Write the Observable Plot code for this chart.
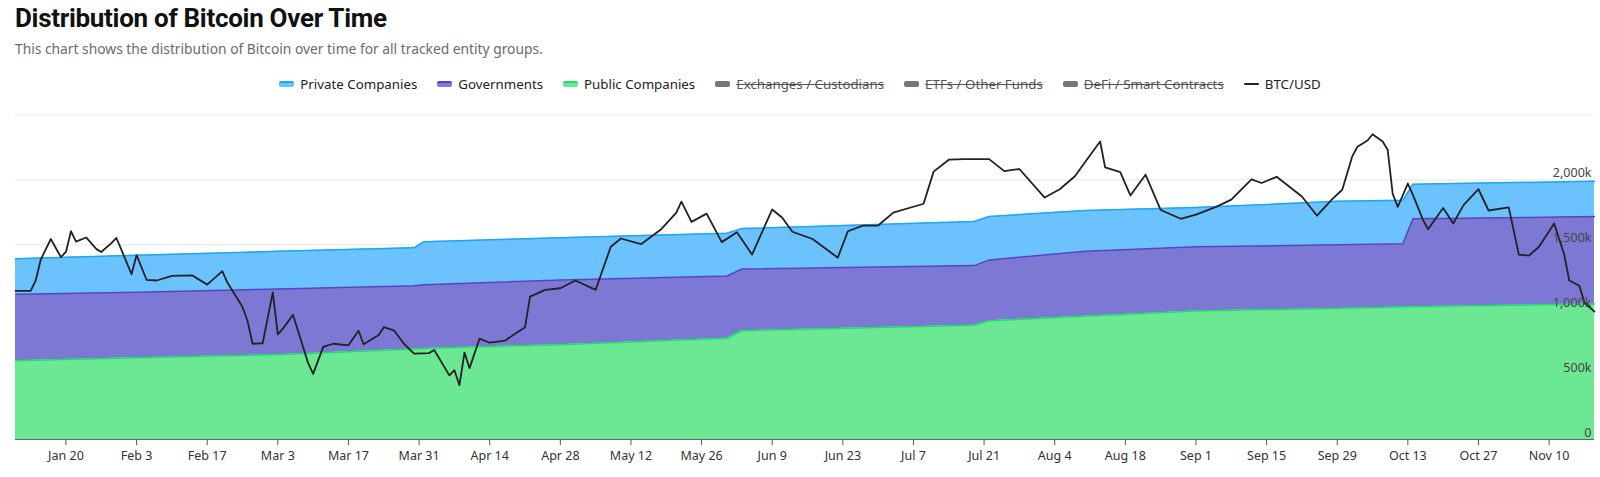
<!DOCTYPE html>
<html><head><meta charset="utf-8">
<script src="https://cdn.jsdelivr.net/npm/d3@7"></script>
<script src="https://cdn.jsdelivr.net/npm/@observablehq/plot@0.6"></script>
<style>
body{margin:0;background:#fff;font-family:"Noto Sans",Roboto,sans-serif;}
#h{height:102px;position:relative;}
#t{position:absolute;left:15px;top:3px;font:700 26px Roboto,"Noto Sans",sans-serif;letter-spacing:-0.3px;color:#111;}
#s{position:absolute;left:15px;top:39px;font:13.8px "Noto Sans",sans-serif;color:#6b6b6b;}
#lg{position:absolute;left:0;width:1600px;top:75px;text-align:center;font:13.3px "Noto Sans",sans-serif;color:#222;}
.it{display:inline-block;margin:0 10px;}
.sw{display:inline-block;width:15px;height:6px;border-radius:2px;margin-right:6px;vertical-align:middle;position:relative;top:-1px;}
.off{text-decoration:line-through;color:#555;}
</style></head><body>
<div id="h"><div id="t">Distribution of Bitcoin Over Time</div>
<div id="s">This chart shows the distribution of Bitcoin over time for all tracked entity groups.</div>
<div id="lg"></div></div>
<div id="c"></div>
<script>
const stackDates=["2025-01-10","2025-02-03","2025-03-03","2025-03-30","2025-04-01","2025-04-28","2025-05-31","2025-06-03","2025-07-19","2025-07-22","2025-08-10","2025-09-01","2025-09-29","2025-10-12","2025-10-14","2025-11-19"];
const publicCos=[607,630,653,698,702,731,780,838,880,915,950,990,1010,1020,1022,1045];
const governments=[513,505,507,487,490,498,480,476,460,469,500,495,490,488,678,673];
const privateCos=[272,285,290,292,332,326,330,311,340,334,315,303,335,335,267,272];
const priceDates=["2025-01-10","2025-01-13","2025-01-14","2025-01-15","2025-01-17","2025-01-19","2025-01-20","2025-01-21","2025-01-22","2025-01-24","2025-01-26","2025-01-27","2025-01-29","2025-01-30","2025-01-31","2025-02-02","2025-02-03","2025-02-05","2025-02-07","2025-02-10","2025-02-14","2025-02-17","2025-02-20","2025-02-21","2025-02-24","2025-02-25","2025-02-26","2025-02-28","2025-03-02","2025-03-03","2025-03-04","2025-03-06","2025-03-07","2025-03-09","2025-03-10","2025-03-12","2025-03-14","2025-03-17","2025-03-19","2025-03-20","2025-03-23","2025-03-24","2025-03-26","2025-03-28","2025-03-30","2025-04-02","2025-04-03","2025-04-06","2025-04-07","2025-04-08","2025-04-09","2025-04-10","2025-04-12","2025-04-14","2025-04-17","2025-04-21","2025-04-22","2025-04-25","2025-04-28","2025-05-01","2025-05-05","2025-05-08","2025-05-10","2025-05-14","2025-05-18","2025-05-21","2025-05-22","2025-05-24","2025-05-27","2025-05-30","2025-06-02","2025-06-05","2025-06-09","2025-06-11","2025-06-13","2025-06-17","2025-06-22","2025-06-24","2025-06-27","2025-06-30","2025-07-03","2025-07-09","2025-07-11","2025-07-14","2025-07-17","2025-07-22","2025-07-25","2025-07-28","2025-08-02","2025-08-05","2025-08-08","2025-08-10","2025-08-13","2025-08-14","2025-08-17","2025-08-19","2025-08-22","2025-08-25","2025-08-29","2025-09-01","2025-09-05","2025-09-08","2025-09-12","2025-09-14","2025-09-17","2025-09-22","2025-09-25","2025-09-28","2025-09-30","2025-10-02","2025-10-03","2025-10-05","2025-10-06","2025-10-08","2025-10-09","2025-10-10","2025-10-11","2025-10-13","2025-10-14","2025-10-16","2025-10-17","2025-10-20","2025-10-22","2025-10-24","2025-10-27","2025-10-29","2025-11-02","2025-11-04","2025-11-06","2025-11-08","2025-11-10","2025-11-11","2025-11-13","2025-11-14","2025-11-16","2025-11-17","2025-11-19"];
const btcUsd=[94.5,94.5,96.5,100.5,104.5,101,102,106,104,104.8,102.6,102,103.7,104.7,102.4,97.7,101.4,96.6,96.5,97.4,97.5,95.7,98.3,96.1,91.4,88.7,84.3,84.4,94.2,86.1,87.2,89.9,86.8,80.6,78.5,83.7,84.3,84,86.8,84.2,86,87.5,86.9,84.3,82.4,82.5,83.1,78.2,79.2,76.3,82.6,79.6,85.3,84.5,84.9,87.5,93.4,94.7,95,96.5,94.7,103,104.6,103.5,106.4,109.6,111.7,107.8,109.4,103.9,105.8,101.5,110.2,108.6,105.9,104.5,100.9,106,107.1,107.1,109.6,111.3,117.5,119.8,119.9,119.9,117.6,118,112.5,114.1,116.6,119.3,123.3,118.3,117.4,112.9,116.9,110.1,108.4,109.2,110.7,112.1,116,115.3,116.5,112.7,109,112.2,114,120.5,122.3,123.5,124.7,123.3,121.7,113.2,110.7,115.2,113,108.2,106.4,110.5,107.5,111,114.1,110,110.6,101.5,101.3,103,106,107.5,101.5,96.5,95.5,92.2,90.5];
const tickDates=["2025-01-20","2025-02-03","2025-02-17","2025-03-03","2025-03-17","2025-03-31","2025-04-14","2025-04-28","2025-05-12","2025-05-26","2025-06-09","2025-06-23","2025-07-07","2025-07-21","2025-08-04","2025-08-18","2025-09-01","2025-09-15","2025-09-29","2025-10-13","2025-10-27","2025-11-10"];
const yTicks=[0,500,1000,1500,2000];
const legendNames=["Private Companies","Governments","Public Companies","Exchanges / Custodians","ETFs / Other Funds","DeFi / Smart Contracts","BTC/USD"];

const groups=[["Public Companies",publicCos,"#6ce895","#20de6a"],["Governments",governments,"#7d78d3","#5246c6"],["Private Companies",privateCos,"#6cc2fd","#1aa7f4"]];
const colorMap={"Private Companies":["#6cc2fd","#1aa7f4"],"Governments":["#7d78d3","#5246c6"],"Public Companies":["#6ce895","#20de6a"]};
const rows=[];
for(const [name,vals] of groups) stackDates.forEach((d,i)=>rows.push({date:new Date(d),group:name,value:vals[i]}));
const price=priceDates.map((d,i)=>({date:new Date(d),price:btcUsd[i]}));

const lg=document.getElementById("lg");
legendNames.forEach((n,i)=>{
  const s=document.createElement("span");s.className="it"+(i>=3&&i<=5?" off":"");
  let sw;
  if(i<3) sw=`<span class="sw" style="background:${colorMap[n][0]};border-top:2px solid ${colorMap[n][1]};height:4px"></span>`;
  else if(i<6) sw=`<span class="sw" style="background:#777"></span>`;
  else sw=`<span class="sw" style="height:2px;background:#222"></span>`;
  s.innerHTML=sw+n;lg.appendChild(s);
});

const colorDomain=groups.map(g=>g[0]);
const chart=Plot.plot({
  width:1600,height:375,marginTop:8,marginBottom:38,marginLeft:15,marginRight:6,
  style:{fontFamily:"'Noto Sans',sans-serif",fontSize:"12px",color:"#333"},
  x:{type:"utc",domain:[new Date("2025-01-10"),new Date("2025-11-19")],label:null},
  y:{domain:[0,2535],label:null},
  color:{domain:colorDomain,range:groups.map(g=>g[2])},
  marks:[
    Plot.gridY([500,1000,1500,2000,2500],{stroke:"#e6e6e6",strokeOpacity:1}),
    Plot.areaY(rows,Plot.stackY({x:"date",y:"value",z:"group",fill:"group",fillOpacity:1,order:null})),
    Plot.lineY(rows,Plot.stackY2({x:"date",y:"value",z:"group",stroke:d=>colorMap[d.group][1],strokeWidth:1.5,order:null})),
    Plot.lineY(price,{x:"date",y:d=>39.95*d.price-2630,stroke:"#222",strokeWidth:1.8}),
    Plot.axisY(yTicks,{anchor:"right",label:null,tickSize:0,tickPadding:-3,textAnchor:"end",dy:-7,fontSize:12.5,fill:"#444",tickFormat:d=>d===0?"0":d3.format(",")(d)+"k"}),
    Plot.axisX(tickDates.map(d=>new Date(d)),{label:null,tickSize:6,tickPadding:6,fontSize:12.5,fill:"#333",stroke:"#555",tickFormat:d3.utcFormat("%b %-d")}),
    Plot.ruleY([0],{stroke:"#666"})
  ]
});
document.getElementById("c").appendChild(chart);
</script></body></html>
